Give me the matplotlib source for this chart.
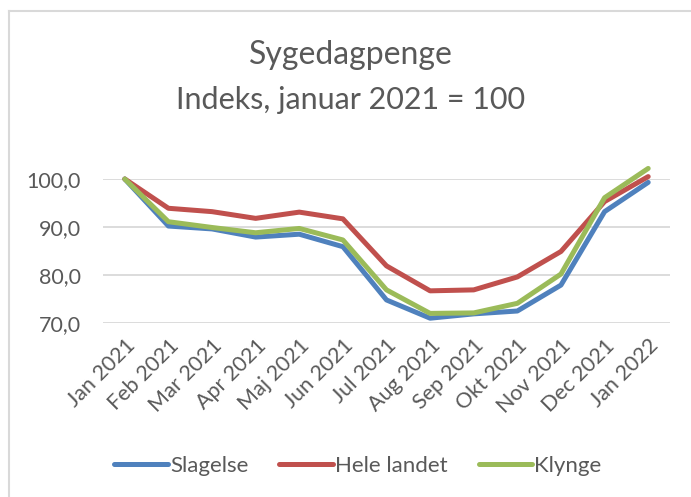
import matplotlib.pyplot as plt
from matplotlib.lines import Line2D

plt.rcParams['font.family'] = ['Lato', 'DejaVu Sans']

maaneder = ['Jan 2021', 'Feb 2021', 'Mar 2021', 'Apr 2021', 'Maj 2021', 'Jun 2021',
            'Jul 2021', 'Aug 2021', 'Sep 2021', 'Okt 2021', 'Nov 2021', 'Dec 2021', 'Jan 2022']
slagelse = [100.0, 90.2, 89.6, 87.9, 88.5, 85.9, 74.8, 71.0, 71.9, 72.5, 77.9, 93.2, 99.3]
hele_landet = [100.0, 93.9, 93.2, 91.8, 93.1, 91.7, 81.9, 76.7, 76.9, 79.6, 84.9, 95.3, 100.5]
klynge = [100.0, 91.1, 89.9, 88.8, 89.7, 87.3, 76.9, 72.0, 72.1, 74.1, 80.2, 96.1, 102.2]

fig = plt.figure(figsize=(6.91, 4.97), dpi=100)
ax = fig.add_axes([103 / 691, 1 - 323 / 497, 567 / 691, 144 / 497])

x = range(len(maaneder))
ax.plot(x, slagelse, color='#4F81BD', lw=3.6, label='Slagelse', clip_on=False, solid_capstyle='round')
ax.plot(x, hele_landet, color='#C0504D', lw=3.6, label='Hele landet', clip_on=False, solid_capstyle='round')
ax.plot(x, klynge, color='#9BBB59', lw=3.6, label='Klynge', clip_on=False, solid_capstyle='round')

ax.set_xlim(-0.5, len(maaneder) - 0.5)
ax.set_ylim(70, 100)
ax.set_yticks([70, 80, 90, 100])
ax.set_yticklabels(['70,0', '80,0', '90,0', '100,0'])
ax.set_xticks(list(x))
ax.set_xticklabels(maaneder, rotation=45, ha='right', va='top', rotation_mode='anchor')
ax.tick_params(axis='both', length=0, labelsize=15.5, labelcolor='#595959')
ax.tick_params(axis='y', pad=16)
ax.tick_params(axis='x', pad=9)
ax.grid(axis='y', color='#D9D9D9', lw=1.3)
ax.set_axisbelow(True)
for s in ax.spines.values():
    s.set_visible(False)

fig.text(351 / 691, 1 - 55 / 497, 'Sygedagpenge', ha='center', va='center', fontsize=23, color='#595959')
fig.text(351 / 691, 1 - 100 / 497, 'Indeks, januar 2021 = 100', ha='center', va='center', fontsize=22, color='#595959')

fig.legend(loc='center', bbox_to_anchor=(358 / 691, 1 - 466 / 497), ncol=3, frameon=False,
           fontsize=16, labelcolor='#595959', handlelength=2.4, handletextpad=0.1, columnspacing=1.4)

# chart border (top and left edge visible)
fig.add_artist(Line2D([8.5 / 691, 8.5 / 691], [0, 1 - 11 / 497], color='#D9D9D9', lw=1.5))
fig.add_artist(Line2D([8.5 / 691, 1], [1 - 11 / 497, 1 - 11 / 497], color='#D9D9D9', lw=1.5))

fig.savefig('out.png', dpi=100)
